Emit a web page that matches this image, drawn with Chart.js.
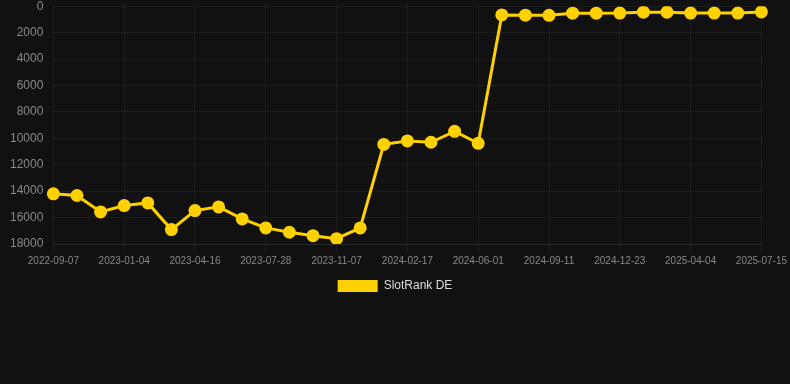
<!DOCTYPE html>
<html>
<head>
<meta charset="utf-8">
<script src="https://cdn.jsdelivr.net/npm/chart.js@4"></script>
<style>
  html, body { margin: 0; padding: 0; background: #111111; overflow: hidden; }
  #wrap { width: 790px; height: 313px; margin-top: -11px; }
</style>
</head>
<body>
<div id="wrap"><canvas id="chart"></canvas></div>
<script>
const dates = [
  "2022-09-07", "2022-10-17", "2022-11-25", "2023-01-04", "2023-02-07", "2023-03-13",
  "2023-04-16", "2023-05-20", "2023-06-24", "2023-07-28", "2023-08-31", "2023-10-04",
  "2023-11-07", "2023-12-11", "2024-01-14", "2024-02-17", "2024-03-23", "2024-04-27",
  "2024-06-01", "2024-07-05", "2024-08-08", "2024-09-11", "2024-10-15", "2024-11-19",
  "2024-12-23", "2025-01-26", "2025-03-01", "2025-04-04", "2025-05-08", "2025-06-11",
  "2025-07-15"
];
const rankDE = [
  14200, 14330, 15570, 15090, 14890, 16910, 15470, 15190, 16100, 16780, 17110, 17370,
  17600, 16780, 10460, 10200, 10300, 9470, 10380, 660, 680, 690, 530, 530,
  520, 455, 450, 520, 520, 520, 430
];
const yTicks = [0, 2000, 4000, 6000, 8000, 10000, 12000, 14000, 16000, 18000];

const yellow = "#FFD100";
const grid = "rgba(255,255,255,0.05)";
const font = "Arial, Liberation Sans, sans-serif";

new Chart(document.getElementById("chart"), {
  type: "line",
  data: {
    labels: dates,
    datasets: [{
      label: "SlotRank DE",
      data: rankDE,
      borderColor: yellow,
      backgroundColor: yellow,
      borderWidth: 3,
      pointRadius: 5,
      pointHoverRadius: 6,
      tension: 0,
    }],
  },
  options: {
    responsive: true,
    maintainAspectRatio: false,
    animation: false,
    plugins: {
      legend: {
        position: "bottom",
        labels: {
          color: "#dddddd",
          font: { family: font, size: 12 },
          boxWidth: 40,
          boxHeight: 12,
          generateLabels: (chart) =>
            Chart.defaults.plugins.legend.labels.generateLabels(chart).map((item) => ({ ...item, lineWidth: 0 })),
        },
      },
      tooltip: { enabled: false },
    },
    scales: {
      x: {
        grid: { color: grid, tickLength: 8 },
        border: { color: grid },
        ticks: {
          color: "#888888",
          font: { family: font, size: 10 },
          autoSkip: false,
          maxRotation: 0,
          callback: (v, i) => (i % 3 === 0 ? dates[i] : null),
        },
      },
      y: {
        reverse: true,
        min: yTicks[0],
        max: yTicks[yTicks.length - 1],
        grid: { color: grid, drawTicks: false },
        border: { display: false },
        afterBuildTicks: (axis) => { axis.ticks = yTicks.map((v) => ({ value: v })); },
        ticks: {
          color: "#888888",
          padding: 10,
          font: { family: font, size: 12 },
          callback: (v) => String(v),
        },
      },
    },
  },
});
</script>
</body>
</html>
